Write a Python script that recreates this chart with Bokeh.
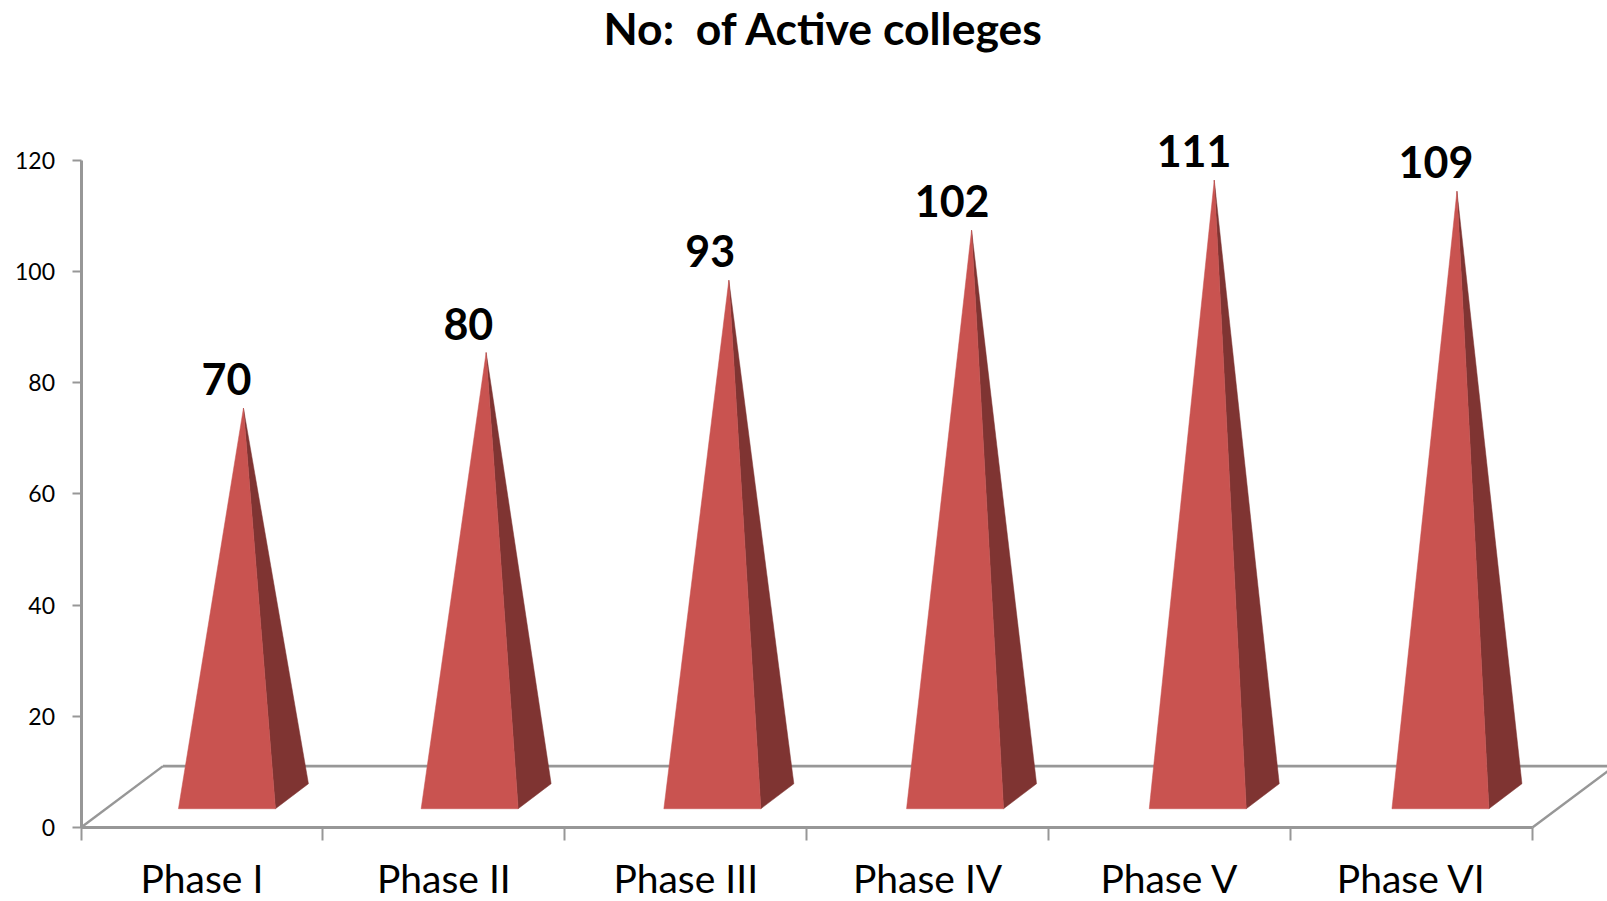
from bokeh.plotting import figure
from bokeh.models import FixedTicker, Range1d, ColumnDataSource, Title
from bokeh.core.properties import value
from bokeh.embed import file_html
from bokeh.resources import INLINE

# ---- data ----
title_text = "No:\u00a0 of Active colleges"
categories = ["Phase I", "Phase II", "Phase III", "Phase IV", "Phase V", "Phase VI"]
colleges = [70, 80, 93, 102, 111, 109]
y_ticks = [0, 20, 40, 60, 80, 100, 120]

# ---- layout (px) ----
W, H = 1607, 901
LEFT = 80.5            # y axis from figure left
TOP = 54               # requested top border
FRAME_TOP = 55.5       # actual frame top once the title panel is laid out
ZERO = 827             # y=0 from figure top
PX_X = 241.9           # px per category
PX_Y = 5.558           # px per unit
BAR_STEP = 242.7 / PX_X  # pyramid spacing, slightly wider than the category ticks
FLOOR_DX = 82 / PX_X   # floor depth, data units
FLOOR_DY = 61.3 / PX_Y
HALF_W = 48.5 / PX_X   # pyramid base half width
BASE_SHIFT = 25 / PX_X # base front-centre relative to category centre
DEPTH_DX = 33 / PX_X
DEPTH_DY = 25 / PX_Y
BASE_DY = 18.7 / PX_Y  # base front above axis
APEX_DX = DEPTH_DX / 2
APEX_DY = 30 / PX_Y

FRONT = "#C95350"
SIDE = "#7F3432"
GREY = "#979797"

p = figure(
    width=W, height=H, output_backend="svg", toolbar_location=None,
    x_range=Range1d(-LEFT / PX_X, (W - LEFT) / PX_X),
    y_range=Range1d(-(H - ZERO) / PX_Y, (ZERO - FRAME_TOP) / PX_Y),
    min_border_left=0, min_border_right=0, min_border_bottom=0, min_border_top=TOP,
    outline_line_color=None, x_axis_type="linear", y_axis_type="linear",
)
p.grid.visible = False

p.title = Title(text=title_text, align="left", offset=603, standoff=0, vertical_align="top",
                text_font="Lato", text_font_size="44.5px", text_font_style="bold",
                text_color="#000000")

# floor
n = len(categories)
p.line([0, FLOOR_DX], [0, FLOOR_DY], line_color=GREY, line_width=2.4)
p.line([n, n + FLOOR_DX], [0, FLOOR_DY], line_color=GREY, line_width=2.4)
p.line([FLOOR_DX, n + FLOOR_DX], [FLOOR_DY, FLOOR_DY], line_color=GREY, line_width=2.8)

# pyramids
front_x, front_y, side_x, side_y = [], [], [], []
for i, v in enumerate(colleges):
    c = 0.5 + BASE_SHIFT + i * BAR_STEP
    ax, ay = c + APEX_DX, v + APEX_DY
    front_x.append([c - HALF_W, c + HALF_W, ax])
    front_y.append([BASE_DY, BASE_DY, ay])
    side_x.append([c + HALF_W, c + HALF_W + DEPTH_DX, ax])
    side_y.append([BASE_DY, BASE_DY + DEPTH_DY, ay])
p.patches(side_x, side_y, fill_color=SIDE, line_color=SIDE, line_width=0.5)
p.patches(front_x, front_y, fill_color=FRONT, line_color=FRONT, line_width=0.5)

# value labels
src = ColumnDataSource(dict(
    x=[i + 0.5 + BASE_SHIFT for i in range(n)],
    y=[v + APEX_DY for v in colleges],
    t=[str(v) for v in colleges],
))
p.text("x", "y", text="t", source=src, text_font=value("Lato"), text_font_style="bold",
       text_font_size="43px", text_align="center", text_baseline="alphabetic",
       text_color="#000000", y_offset=-29, x_offset=-0.5)

# axes
xa = p.xaxis[0]
xa.fixed_location = 0
xa.bounds = (0, n)
xa.ticker = FixedTicker(ticks=[i + 0.5 for i in range(n)], minor_ticks=list(range(n + 1)))
xa.major_label_overrides = {i + 0.5: c for i, c in enumerate(categories)}
xa.major_tick_out = 0
xa.major_tick_in = 0
xa.minor_tick_out = 13
xa.minor_tick_in = 0
xa.minor_tick_line_color = GREY
xa.minor_tick_line_width = 2
xa.axis_line_color = GREY
xa.axis_line_width = 3
xa.major_label_standoff = 15
xa.major_label_text_font = "Lato"
xa.major_label_text_font_size = "39px"
xa.major_label_text_color = "#000000"

ya = p.yaxis[0]
ya.fixed_location = 0
ya.bounds = (0, 120)
ya.ticker = FixedTicker(ticks=y_ticks)
ya.major_tick_out = 9
ya.major_tick_in = 0
ya.minor_tick_out = 0
ya.minor_tick_in = 0
ya.major_tick_line_color = GREY
ya.major_tick_line_width = 2
ya.axis_line_color = GREY
ya.axis_line_width = 3
ya.major_label_standoff = 17
ya.major_label_text_font = "Lato"
ya.major_label_text_font_size = "23px"
ya.major_label_text_color = "#000000"

open("out.html", "w").write(file_html(p, INLINE))
